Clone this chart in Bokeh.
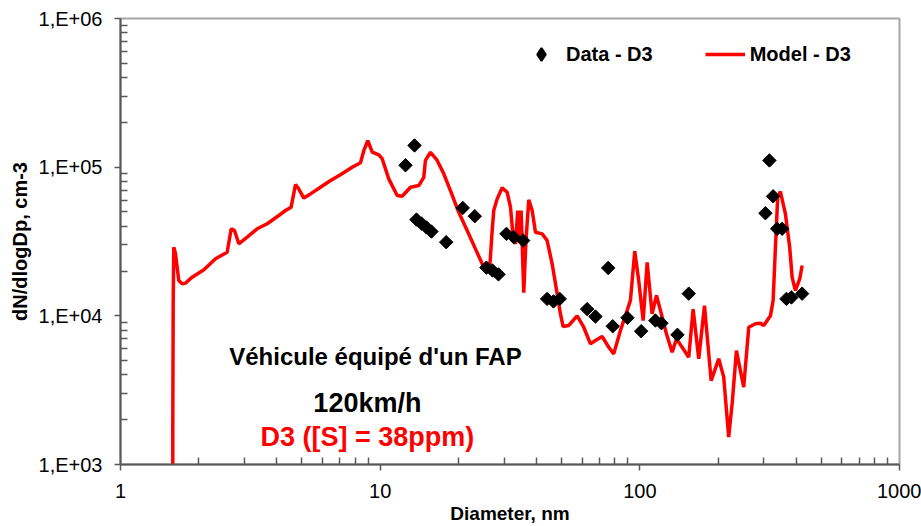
from bokeh.plotting import figure
from bokeh.models import (Legend, LegendItem, FixedTicker, CustomJSTickFormatter,
                          Label, Range1d)
from bokeh.embed import file_html
from bokeh.resources import INLINE

# Model - D3 (diameter nm, dN/dlogDp cm-3)
model_d = [1.59, 1.59, 1.596, 1.604, 1.628, 1.677, 1.728, 1.780, 1.888, 2.094,
           2.322, 2.575, 2.669, 2.748, 2.855, 3.075, 3.360, 3.672, 4.07, 4.32,
           4.54, 4.72, 4.85, 5.08, 5.39, 5.89, 6.44, 7.03, 7.80, 8.40,
           8.65, 8.96, 9.32, 9.88, 10.18, 10.79, 11.63, 12.15, 13.09, 14.08,
           14.72, 14.94, 15.62, 16.58, 17.58, 18.65, 20.07, 21.63, 23.28, 25.06,
           26.42, 27.0, 27.38, 28.22, 29.5, 30.83, 31.76, 32.52, 33.19, 33.87,
           34.29, 34.90, 35.73, 36.43, 37.35, 38.5, 39.63, 42.06, 43.95, 45.95,
           48.03, 49.46, 50.66, 53.2, 57.36, 60.8, 64.54, 67.45, 71.6, 75.9,
           79.35, 84.2, 89.4, 92.0, 95.6, 99.0, 103.0, 106.7, 111.5, 115.9,
           120.0, 126.6, 133.2, 138.4, 145.5, 154.3, 160.4, 168.6, 177.4, 188.2,
           201.3, 210.4, 219.9, 227.3, 235.5, 251.2, 262.7, 278.7, 291.3, 300.0,
           318.4, 326.1, 332.8, 339.6, 347.8, 363.6, 377.7, 385.9, 397.2, 412.8,
           421.7]
model_v = [900, 1780, 12700, 28900, 26200, 17300, 16400, 16600, 18200, 20400,
           24200, 26800, 38500, 37500, 30500, 33800, 38500, 41600, 47300, 51100,
           53800, 76400, 71800, 62000, 66100, 73300, 81300, 88800, 99800, 107000,
           129000, 151000, 126000, 121000, 114000, 83400, 64400, 63700, 73300, 75200,
           85500, 111000, 126000, 111000, 90200, 69600, 49700, 37500, 28200, 21200,
           21200, 37500, 51100, 61200, 72600, 67800, 53800, 33800, 30500, 51100,
           32100, 51100, 14300, 32100, 60300, 51100, 36500, 35600, 32100, 22400,
           14100, 10300, 8470, 8610, 10000, 8380, 6480, 6820, 7260, 6150,
           5550, 7960, 10900, 12700, 27200, 17300, 9300, 22900, 10300, 13700,
           10900, 7570, 5690, 7000, 6150, 5270, 11100, 5140, 11700, 3670,
           5140, 3870, 1530, 2690, 5840, 3310, 8380, 8840, 8920, 8610,
           10000, 12700, 28900, 62800, 68500, 48500, 28900, 18200, 14800, 17700,
           21800]

# Data - D3
data_d = [12.52, 13.56, 13.80, 14.42, 15.08, 15.76, 17.96, 20.80, 23.14, 25.66,
          27.07, 28.55, 30.64, 32.69, 35.53, 43.95, 46.49, 49.15, 62.67, 67.45,
          75.5, 78.65, 89.6, 101.2, 114.8, 121.1, 139.6, 154.3, 304.5, 315.5,
          326.1, 337.9, 353.2, 366.9, 383.5, 421.7]
data_v = [103000, 140000, 44400, 41800, 39300, 36900, 31300, 53200, 46800, 21100,
          20200, 19000, 35600, 33800, 32100, 13000, 12500, 13000, 11100, 9890,
          21000, 8510, 9700, 7880, 9300, 8920, 7450, 14100, 49000, 111000,
          63700, 38500, 38500, 13000, 13300, 14100]

x_ticks = [1, 10, 100, 1000]
y_ticks = [1e3, 1e4, 1e5, 1e6]

FONT = "Liberation Sans"
AX = "#595959"

p = figure(width=921, height=526, x_axis_type="log", y_axis_type="log",
           x_range=Range1d(1, 1000), y_range=Range1d(1e3, 1e6),
           output_backend="svg", toolbar_location=None,
           min_border_left=120, min_border_right=22, min_border_top=18,
           min_border_bottom=62, background_fill_color="white",
           border_fill_color="white")
p.xgrid.visible = False
p.ygrid.visible = False
p.outline_line_color = "#a6a6a6"
p.outline_line_width = 2

ln = p.line(model_d, model_v, line_color="#ff0000", line_width=3.5)
# diamond-shaped key for the legend (drawn under the first data marker)
sc_key = p.scatter(data_d[:1], data_v[:1], marker="diamond", size=8,
                   fill_color="black", line_color="black", line_width=2)
sc = p.scatter(data_d, data_v, marker="square", angle=0.785398, size=9.5,
               fill_color="black", line_color="black")

p.xaxis.ticker = FixedTicker(ticks=x_ticks,
                             minor_ticks=[m * 10 ** k for k in range(0, 3) for m in range(2, 10)])
p.yaxis.ticker = FixedTicker(ticks=y_ticks,
                             minor_ticks=[m * 10 ** k for k in range(3, 6) for m in range(2, 10)])
p.xaxis.formatter = CustomJSTickFormatter(code="return Math.round(tick).toString();")
p.yaxis.formatter = CustomJSTickFormatter(
    code="var e=Math.round(Math.log10(tick)); return '1,E+' + (e<10?'0':'') + e;")

for ax in (p.xaxis, p.yaxis):
    ax.axis_line_color = AX
    ax.axis_line_width = 2
    ax.major_tick_line_color = AX
    ax.minor_tick_line_color = AX
    ax.major_tick_line_width = 1.5
    ax.minor_tick_line_width = 1.5
    ax.major_tick_in = 0
    ax.major_tick_out = 6
    ax.minor_tick_in = 7
    ax.minor_tick_out = 0
    ax.major_label_text_font = FONT
    ax.major_label_text_font_size = "20px"
    ax.major_label_text_color = "black"
    ax.axis_label_text_font = FONT
    ax.axis_label_text_font_style = "bold"
    ax.axis_label_text_color = "black"

p.xaxis.axis_label = "Diameter, nm"
p.xaxis.axis_label_text_font_size = "19px"
p.xaxis.major_label_standoff = 13
p.xaxis.axis_label_standoff = 2
p.yaxis.axis_label = "dN/dlogDp, cm-3"
p.yaxis.axis_label_text_font_size = "20px"
p.yaxis.major_label_standoff = 12
p.yaxis.axis_label_standoff = 5

for txt, xx, yy, col, fs in [("Véhicule équipé d'un FAP", 9.59, 5320, "black", "24px"),
                             ("120km/h", 8.93, 2610, "black", "27px"),
                             ("D3 ([S] = 38ppm)", 8.93, 1520, "#ff0000", "27px")]:
    p.add_layout(Label(x=xx, y=yy, text=txt, text_align="center",
                       text_baseline="middle", text_font=FONT,
                       text_font_style="bold", text_font_size=fs,
                       text_color=col))

legend = Legend(items=[LegendItem(label="Data - D3", renderers=[sc_key]),
                       LegendItem(label="Model - D3", renderers=[ln])],
                orientation="horizontal", location=(401, 394),
                glyph_width=40, glyph_height=32, label_standoff=5, spacing=52,
                padding=10, border_line_color=None, background_fill_alpha=0,
                label_text_font=FONT, label_text_font_style="bold",
                label_text_font_size="20px", label_text_color="black")
p.add_layout(legend)

open("out.html", "w").write(file_html(p, INLINE))
